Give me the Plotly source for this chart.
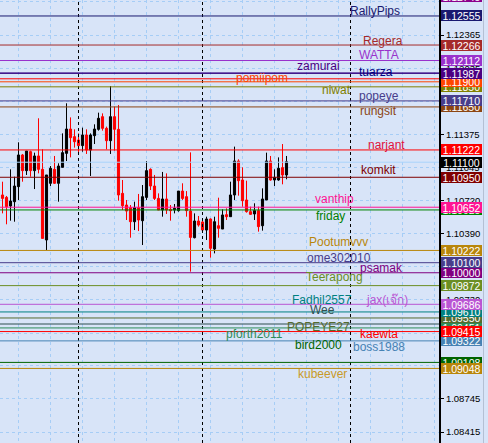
import plotly.graph_objects as go

# ---- price bars (oldest -> newest) ----
opens = [1.10774, 1.10750, 1.10664, 1.10707, 1.10857, 1.11172, 1.11016, 1.11205, 1.11016, 1.11162,
         1.11029, 1.10326, 1.10890, 1.11029, 1.10890, 1.11049, 1.11188, 1.11430, 1.11354, 1.11321,
         1.11265, 1.11371, 1.11221, 1.11364, 1.11427, 1.11553, 1.11437, 1.11314, 1.11553, 1.11427,
         1.10790, 1.10674, 1.10648, 1.10508, 1.10648, 1.10518, 1.10750, 1.11029, 1.10863, 1.10740,
         1.10624, 1.10734, 1.10631, 1.10624, 1.10618, 1.10813, 1.10757, 1.10614, 1.10349, 1.10515,
         1.10505, 1.10425, 1.10535, 1.10236, 1.10468, 1.10435, 1.10578, 1.10558, 1.10774, 1.11112,
         1.10923, 1.10724, 1.10608, 1.10585, 1.10618, 1.10468, 1.10724, 1.11112, 1.10923, 1.10923,
         1.11046, 1.10973]
highs = [1.10906, 1.10764, 1.11029, 1.10956, 1.11298, 1.11182, 1.11211, 1.11215, 1.11195, 1.11537,
         1.11228, 1.10973, 1.11062, 1.11162, 1.11089, 1.11387, 1.11686, 1.11546, 1.11427, 1.11387,
         1.11444, 1.11427, 1.11387, 1.11477, 1.11593, 1.11586, 1.11454, 1.11858, 1.11653, 1.11669,
         1.10923, 1.10724, 1.10674, 1.10707, 1.10784, 1.10873, 1.11112, 1.11039, 1.10973, 1.10790,
         1.11003, 1.10989, 1.10674, 1.10684, 1.10813, 1.10890, 1.10813, 1.11198, 1.10591, 1.10565,
         1.10531, 1.10558, 1.10541, 1.10558, 1.10747, 1.10631, 1.10641, 1.10906, 1.11255, 1.11129,
         1.11049, 1.10916, 1.10658, 1.10691, 1.10658, 1.10840, 1.11195, 1.11162, 1.11029, 1.11148,
         1.11281, 1.11162]
lows = [1.10591, 1.10482, 1.10518, 1.10508, 1.10724, 1.10906, 1.10973, 1.10956, 1.10833, 1.10989,
        1.10342, 1.10226, 1.10863, 1.10883, 1.10707, 1.11049, 1.11112, 1.11148, 1.11245, 1.11195,
        1.11205, 1.11182, 1.10963, 1.11281, 1.11414, 1.11414, 1.11228, 1.11182, 1.11215, 1.10717,
        1.10624, 1.10525, 1.10349, 1.10425, 1.10415, 1.10276, 1.10724, 1.10823, 1.10724, 1.10624,
        1.10558, 1.10585, 1.10518, 1.10591, 1.10608, 1.10724, 1.10558, 1.10011, 1.10342, 1.10459,
        1.10425, 1.10326, 1.10150, 1.10193, 1.10349, 1.10435, 1.10525, 1.10558, 1.10724, 1.10767,
        1.10658, 1.10598, 1.10575, 1.10525, 1.10409, 1.10419, 1.10724, 1.10916, 1.10863, 1.10916,
        1.10880, 1.10930]
closes = [1.10740, 1.10658, 1.10714, 1.10863, 1.11172, 1.11016, 1.11211, 1.11016, 1.11162, 1.11029,
          1.10342, 1.10973, 1.11039, 1.10890, 1.11062, 1.11195, 1.11430, 1.11344, 1.11304, 1.11265,
          1.11371, 1.11221, 1.11371, 1.11430, 1.11537, 1.11437, 1.11314, 1.11553, 1.11427, 1.10774,
          1.10667, 1.10614, 1.10508, 1.10648, 1.10525, 1.10757, 1.11016, 1.10863, 1.10740, 1.10624,
          1.10734, 1.10624, 1.10618, 1.10641, 1.10813, 1.10740, 1.10618, 1.10352, 1.10515, 1.10475,
          1.10425, 1.10535, 1.10243, 1.10508, 1.10442, 1.10575, 1.10558, 1.10774, 1.11112, 1.10916,
          1.10717, 1.10608, 1.10581, 1.10618, 1.10459, 1.10734, 1.11112, 1.10923, 1.10949, 1.11039,
          1.10973, 1.11105]
bar_index = list(range(len(closes)))

# ---- horizontal level lines, in the order they were placed ----
level_prices = [1.09108, 1.09048, 1.09322, 1.09490, 1.09451, 1.09415, 1.09550, 1.09610, 1.09686,
                1.09872, 1.10000, 1.10100, 1.10222, 1.10625, 1.10652, 1.10950, 1.11222, 1.11650,
                1.11710, 1.11850, 1.11930, 1.11900, 1.11985, 1.11987, 1.12112, 1.12266, 1.12555,
                1.12745]
level_colors = ["#006400", "#b8860b", "#4682b4", "#2f4f4f", "#2e8b57", "#ff0000", "#556b2f",
                "#008080", "#ba55d3", "#6b8e23", "#800080", "#483d8b", "#b8860b", "#008000",
                "#ff1493", "#800000", "#ff0000", "#8b4513", "#483d8b", "#808000", "#ff0000",
                "#ff4500", "#000080", "#4b0082", "#9932cc", "#a52a2a", "#191970", "#8b008b"]

# current bid
bid_price = 1.11100

# ---- text labels placed on the chart ----
label_texts = ["RallyPips", "Regera", "WATTA", "zamurai", "tuarza", "pomiipom", "niwat", "popeye",
               "rungsit", "narjant", "komkit", "vanthip", "friday", "Pootumvvv", "ome302010",
               "psamak", "Teerapong", "Fadhil2557", "jax(เจ๊ก)", "Wee", "POPEYE27", "pforth2011",
               "kaewta", "bird2000", "boss1988", "kubeever"]
label_bars = [93.0, 95.1, 94.1, 79.0, 93.4, 64.75, 83.5, 94.0, 94.0, 95.9, 93.9, 82.9, 81.9, 83.9,
              84.0, 94.75, 82.9, 79.9, 96.0, 80.0, 79.0, 63.0, 94.1, 79.0, 94.0, 80.0]
label_prices = [1.12605, 1.12306, 1.12162, 1.12057, 1.11998, 1.11938, 1.11819, 1.11759, 1.11610,
                1.11276, 1.11018, 1.10734, 1.10560, 1.10311, 1.10147, 1.10047, 1.09953, 1.09729,
                1.09724, 1.09630, 1.09460, 1.09386, 1.09386, 1.09281, 1.09261, 1.08993]
label_colors = ["#191970", "#a52a2a", "#9932cc", "#4b0082", "#000080", "#ff4500", "#808000",
                "#483d8b", "#8b4513", "#e0103a", "#800000", "#ff1493", "#008000", "#b8860b",
                "#483d8b", "#800080", "#6b8e23", "#008080", "#ba55d3", "#2f4f4f", "#556b2f",
                "#2e8b57", "#ff0000", "#006400", "#4682b4", "#c89a28"]

# ---- scale ----
tick_vals = [1.12695, 1.12365, 1.12035, 1.11705, 1.11375, 1.11045, 1.10720, 1.10390, 1.10060,
             1.09730, 1.09400, 1.09075, 1.08745, 1.08415]
tick_text = [f"{v:.5f}" for v in tick_vals]
grid_bars = list(range(4, 112, 8))
separator_bars = [19, 50, 87]

W, H = 488, 443
PLOT_W = 439
y_range = [1.08306, 1.12714]
x_range = [-0.625, -0.625 + PLOT_W / 4.0]

BG = "#d8e4f8"
GRID = "#a6cdf6"
FONT = "Liberation Sans, Arial, sans-serif"

fig = go.Figure()
fig.add_trace(go.Candlestick(
    x=bar_index, open=opens, high=highs, low=lows, close=closes,
    increasing=dict(line=dict(color="#000000", width=1), fillcolor="#000000"),
    decreasing=dict(line=dict(color="#ff0000", width=1), fillcolor="#ff0000"),
    whiskerwidth=0, hoverinfo="skip", showlegend=False,
))

shapes = []
for b in separator_bars:
    shapes.append(dict(type="line", xref="x", yref="paper", x0=b, x1=b, y0=0, y1=1,
                       line=dict(color="#000000", width=1, dash="3px,3px"), layer="above"))
shapes.append(dict(type="line", xref="x domain", yref="y", x0=0, x1=1, y0=bid_price, y1=bid_price,
                   line=dict(color="#a9d3fb", width=1), layer="above"))
for p, c in zip(level_prices, level_colors):
    shapes.append(dict(type="line", xref="x domain", yref="y", x0=0, x1=1, y0=p, y1=p,
                       line=dict(color=c, width=1), layer="above"))
# window edge at the far right
shapes.append(dict(type="line", xref="paper", yref="paper", x0=483.5 / W, x1=483.5 / W, y0=0, y1=1,
                   line=dict(color="#b4c0d4", width=1)))

annotations = []
for t, xb, p, c in zip(label_texts, label_bars, label_prices, label_colors):
    annotations.append(dict(text=t, x=xb, y=p, xref="x", yref="y", showarrow=False,
                            xanchor="center", yanchor="middle",
                            font=dict(family=FONT, size=12, color=c)))

def price_tag(price, color, text_color="#ffffff"):
    lo, hi = y_range
    frac = (price - lo) / (hi - lo)
    return dict(text=f"{price:.5f}", x=441 / W, y=frac, xref="paper", yref="paper",
                xanchor="left", yanchor="middle", showarrow=False,
                width=41, height=11, bgcolor=color, borderpad=0, borderwidth=0,
                font=dict(family=FONT, size=10.5, color=text_color))

for p, c in zip(level_prices, level_colors):
    annotations.append(price_tag(p, c))
annotations.append(price_tag(bid_price, "#000000"))

fig.update_layout(
    width=W, height=H,
    margin=dict(l=0, r=0, t=0, b=0, pad=0),
    paper_bgcolor=BG, plot_bgcolor=BG,
    showlegend=False,
    boxgap=0.25,
    shapes=shapes, annotations=annotations,
    xaxis=dict(domain=[0, PLOT_W / W], range=x_range, rangeslider=dict(visible=False),
               tickvals=grid_bars, showticklabels=False, ticks="",
               showgrid=True, gridcolor=GRID, griddash="3px,3px", gridwidth=1,
               zeroline=False, showline=False, fixedrange=True),
    yaxis=dict(range=y_range, side="right", tickvals=tick_vals, ticktext=tick_text,
               ticks="outside", ticklen=3, tickcolor="#000000",
               tickfont=dict(family=FONT, size=9.5, color="#000000"),
               showgrid=True, gridcolor=GRID, griddash="3px,3px", gridwidth=1,
               showline=True, linecolor="#000000", linewidth=2,
               zeroline=False, fixedrange=True),
)

fig.write_html("out.html")
